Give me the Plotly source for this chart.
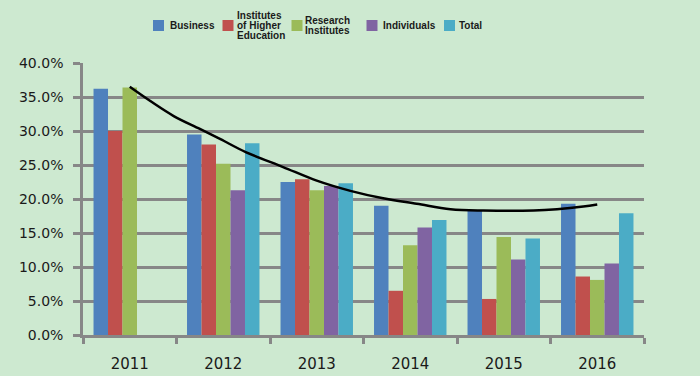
import plotly.graph_objects as go

years = ["2011", "2012", "2013", "2014", "2015", "2016"]
business = [36.2, 29.5, 22.5, 19.0, 18.3, 19.3]
higher_edu = [30.0, 28.0, 22.9, 6.5, 5.3, 8.6]
research = [36.4, 25.2, 21.3, 13.2, 14.4, 8.1]
individuals = [None, 21.3, 21.9, 15.8, 11.1, 10.5]
total = [None, 28.2, 22.3, 16.9, 14.2, 17.9]

trend_x = [2011.0, 2011.22, 2011.47, 2011.75, 2011.97, 2012.24, 2012.64, 2013.0,
           2013.36, 2013.71, 2014.07, 2014.43, 2014.78, 2015.32, 2015.57, 2015.85, 2016.0]
trend_y = [36.5, 34.4, 32.2, 30.3, 28.8, 26.9, 24.7, 22.7,
           21.2, 20.1, 19.3, 18.5, 18.3, 18.3, 18.5, 18.9, 19.2]

series_names = ["Business", "Institutes of Higher Education", "Research Institutes",
                "Individuals", "Total"]
legend_lines = [["Business"], ["Institutes", "of Higher", "Education"],
                ["Research", "Institutes"], ["Individuals"], ["Total"]]
colors = ["#4F81BD", "#C0504D", "#9BBB59", "#8064A2", "#4BACC6"]
values = [business, higher_edu, research, individuals, total]

# plot-area geometry in pixels (for the hand-built legend)
W, H = 700, 376
L, R, T, B = 83, 56, 63, 41
PW, PH = W - L - R, H - T - B


def px_x(p):
    return (p - L) / PW


def px_y(p):
    return (H - B - p) / PH


fig = go.Figure()
for name, vals, col in zip(series_names, values, colors):
    fig.add_trace(go.Bar(x=years, y=vals, name=name, marker_color=col,
                         marker_line_width=0, showlegend=False))

fig.add_trace(go.Scatter(x=trend_x, y=trend_y, mode="lines", xaxis="x2",
                         line=dict(color="black", width=2.5, shape="spline"),
                         showlegend=False, hoverinfo="skip"))

# legend: squares + text
square_left = [153, 222.5, 291.5, 366.5, 444]
text_left = [168, 235, 303, 381, 457]
legend_cy = 25.5
line_gap = 10.2
shapes = []
annotations = []
for sl, tl, lines, col in zip(square_left, text_left, legend_lines, colors):
    shapes.append(dict(type="rect", xref="paper", yref="paper",
                       x0=px_x(sl), x1=px_x(sl + 11),
                       y0=px_y(legend_cy - 5.5), y1=px_y(legend_cy + 5.5),
                       fillcolor=col, line=dict(width=0)))
    n = len(lines)
    for i, ln in enumerate(lines):
        cy = legend_cy + (i - (n - 1) / 2) * line_gap
        annotations.append(dict(text=ln, xref="paper", yref="paper",
                                x=px_x(tl), y=px_y(cy), xanchor="left",
                                yanchor="middle", showarrow=False,
                                font=dict(family="Liberation Sans", size=10,
                                          weight="bold", color="#1a1a1a")))

grid = "#878787"
bg = "#CDE9D0"
fig.update_layout(
    width=W, height=H,
    margin=dict(l=L, r=R, t=T, b=B, autoexpand=False),
    paper_bgcolor=bg, plot_bgcolor=bg,
    barmode="group", bargap=0.225, bargroupgap=0,
    font=dict(family="DejaVu Sans", size=14, color="#1a1a1a"),
    showlegend=False,
    shapes=shapes, annotations=annotations,
    xaxis=dict(type="category", tickson="boundaries", ticks="outside", ticklen=6,
               tickcolor=grid, tickwidth=2.5, showline=True, linecolor=grid,
               linewidth=2.5, showgrid=False, ticklabelstandoff=13,
               tickfont=dict(size=15), automargin=False),
    xaxis2=dict(overlaying="x", range=[2010.5, 2016.5], visible=False),
    yaxis=dict(range=[0, 40], dtick=5, tickformat=".1f", ticksuffix="%",
               showgrid=True, gridcolor=grid, gridwidth=2.5, zeroline=False,
               showline=True, linecolor=grid, linewidth=2.5, automargin=False,
               ticks="outside", ticklen=7, tickcolor=grid, tickwidth=2.5,
               ticklabelstandoff=7),
)

fig.write_html(
    "out.html",
    config={"displayModeBar": False},
    post_script="document.body.style.margin='0';document.body.style.background='%s';" % bg,
)
